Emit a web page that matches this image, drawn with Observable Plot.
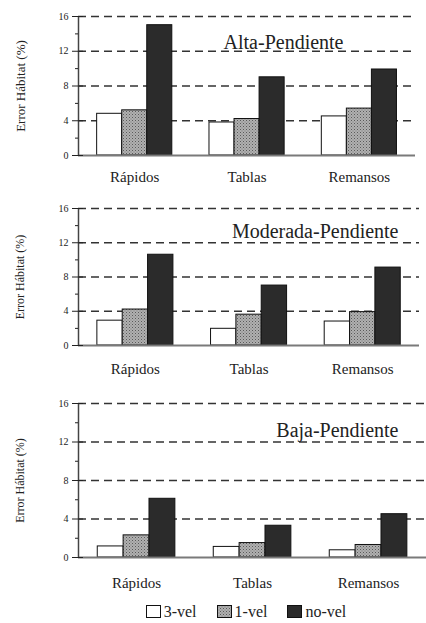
<!DOCTYPE html>
<html>
<head>
<meta charset="utf-8">
<script src="https://cdn.jsdelivr.net/npm/d3@7"></script>
<script src="https://cdn.jsdelivr.net/npm/@observablehq/plot@0.6"></script>
<style>
  html, body { margin: 0; padding: 0; background: #fff; }
  body { width: 426px; font-family: "Liberation Serif", "DejaVu Serif", serif; }
  #chart svg { display: block; }
  .legend { display: flex; justify-content: center; align-items: center; gap: 20px; height: 23px; font-size: 16px; color: #222; padding-left: 66px; box-sizing: border-box; width: 426px; }
  .legend span.item { display: inline-flex; align-items: center; gap: 3px; }
  .legend svg { display: block; }
</style>
</head>
<body>
<svg width="0" height="0" style="position:absolute">
  <defs>
    <pattern id="stip" width="3" height="3" patternUnits="userSpaceOnUse">
      <rect width="3" height="3" fill="#b0b0b0"/>
      <rect width="1" height="1" fill="#5a5a5a"/>
      <rect x="1.5" y="1.5" width="1" height="1" fill="#777"/>
    </pattern>
  </defs>
</svg>
<div id="chart"></div>
<script>
// ---- data ----
const categories = ["Rápidos", "Tablas", "Remansos"];
const seriesNames = ["3-vel", "1-vel", "no-vel"];
const yTicks = [0, 4, 8, 12, 16];
const yMinorTicks = [2, 6, 10, 14];
const yLabel = "Error Hábitat (%)";

const altaVel3   = [4.8, 3.8, 4.5];
const altaVel1   = [5.2, 4.2, 5.4];
const altaNoVel  = [15.0, 9.0, 9.9];

const moderadaVel3  = [2.9, 1.95, 2.8];
const moderadaVel1  = [4.2, 3.6, 3.9];
const moderadaNoVel = [10.6, 7.0, 9.1];

const bajaVel3   = [1.15, 1.1, 0.75];
const bajaVel1   = [2.3, 1.5, 1.3];
const bajaNoVel  = [6.1, 3.3, 4.5];

const fills = {"3-vel": "#ffffff", "1-vel": "url(#stip)", "no-vel": "#2b2b2b"};

// group layout within each category band (fractions of a band)
const groupOffset = 0.166;
const barFrac = 0.223;

function rowsFor(arrays) {
  const rows = [];
  categories.forEach((c, i) => {
    seriesNames.forEach((s, j) => {
      rows.push({cat: c, series: s, value: arrays[j][i], i, j});
    });
  });
  return rows;
}

function panel(title, arrays, o) {
  const rows = rowsFor(arrays);
  const x1 = d => d.i + groupOffset + d.j * barFrac;
  const x2 = d => d.i + groupOffset + (d.j + 1) * barFrac;
  return Plot.plot({
    width: 426,
    height: o.height,
    marginTop: o.mt,
    marginBottom: o.mb,
    marginLeft: 78,
    marginRight: o.mr,
    style: {fontFamily: "Liberation Serif, serif", color: "#222", background: "#fff"},
    x: {type: "linear", domain: [0, 3], axis: null},
    y: {type: "linear", domain: [0, 16], axis: null},
    marks: [
      Plot.ruleY(yTicks.filter(t => t > 0), {stroke: "#333", strokeWidth: 1.6, strokeDasharray: "8,5"}),
      ...seriesNames.map(s => Plot.rect(rows.filter(r => r.series === s), {
        x1, x2, y1: 0, y2: "value", fill: fills[s], stroke: "#111", strokeWidth: 1
      })),
      Plot.ruleY([0], {stroke: "#7a7a7a", strokeWidth: 2}),
      Plot.ruleX([0], {stroke: "#444", strokeWidth: 1.5}),
      Plot.axisY({ticks: yTicks, tickSize: 6, tickPadding: 4, fontSize: 10, label: null}),
      Plot.axisY({ticks: yTicks, tickSize: -5, tickFormat: () => "", label: null}),
      Plot.axisY({ticks: yMinorTicks, tickSize: 3, tickFormat: () => "", label: null}),
      Plot.axisX({ticks: [0.5, 1.5, 2.5], tickFormat: d => categories[Math.floor(d)], tickSize: 0, tickPadding: o.tp, fontSize: 15, label: null}),
      Plot.text([yLabel], {frameAnchor: "left", textAnchor: "middle", rotate: -90, dx: -58, fontSize: o.ls, fill: "#222"}),
      Plot.text([title], {frameAnchor: "top-right", textAnchor: "end", dx: o.tdx, dy: o.tdy, fontSize: 20, fill: "#222"})
    ]
  });
}

const chart = document.getElementById("chart");
chart.append(panel("Alta-Pendiente", [altaVel3, altaVel1, altaNoVel],
  {height: 195, mt: 16, mb: 40, mr: 11, tp: 16, ls: 13, tdx: -72, tdy: 18}));
chart.append(panel("Moderada-Pendiente", [moderadaVel3, moderadaVel1, moderadaNoVel],
  {height: 195, mt: 13, mb: 45, mr: 7, tp: 18, ls: 12, tdx: -21, tdy: 15}));
chart.append(panel("Baja-Pendiente", [bajaVel3, bajaVel1, bajaNoVel],
  {height: 210, mt: 13, mb: 43, mr: 0, tp: 20, ls: 12, tdx: -28, tdy: 19}));

// legend
const legend = document.createElement("div");
legend.className = "legend";
seriesNames.forEach(s => {
  const item = document.createElement("span");
  item.className = "item";
  item.innerHTML = `<svg width="15" height="13"><rect x="0.5" y="0.5" width="14" height="12" fill="${fills[s]}" stroke="#111" stroke-width="1"/></svg><span>${s}</span>`;
  legend.append(item);
});
document.body.append(legend);
</script>
</body>
</html>
